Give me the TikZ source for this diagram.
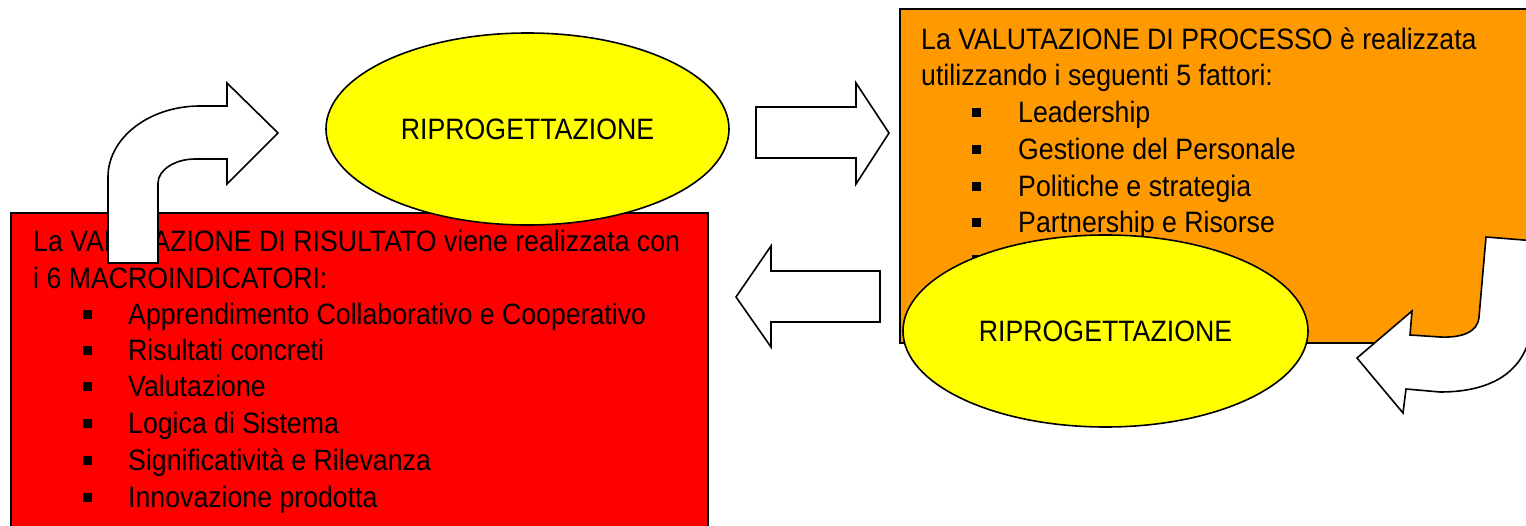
\documentclass[tikz,border=0pt]{standalone}
\usepackage{fontspec}
\setmainfont{Liberation Sans}[FakeStretch=0.905]
\usetikzlibrary{shapes.geometric}
\definecolor{boxred}{RGB}{255,0,0}
\definecolor{boxorange}{RGB}{255,153,0}
\definecolor{ellyellow}{RGB}{255,255,0}
\tikzset{
  panel/.style={draw=black, line width=1.6pt},
  txt/.style={inner sep=0pt, anchor=base west, font=\fontsize{29.5}{36.5}\selectfont},
  bul/.style={fill=black, draw=none},
  ell/.style={ellipse, draw=black, line width=1.6pt, fill=ellyellow, inner sep=0pt,
              font=\fontsize{29.5}{36.5}\selectfont},
  blockarrow/.style={draw=black, fill=white, line width=1.6pt, line join=miter}
}
\begin{document}
\begin{tikzpicture}[x=1pt, y=-1pt]
\clip (0,0) rectangle (1526,526);
\fill[white] (0,0) rectangle (1526,526);

% panels
\draw[panel, fill=boxred] (11,213) rectangle (708,540);
\draw[panel, fill=boxorange] (900,9) rectangle (1540,343);

% red panel text
\node[txt] (r1) at (33,252) {La VALUTAZIONE DI RISULTATO viene realizzata con};
\node[txt] (r2) at (33,289) {i 6 MACROINDICATORI:};
\foreach \y/\t [count=\i] in {325/{Apprendimento Collaborativo e Cooperativo},
                   361/{Risultati concreti},
                   397/{Valutazione},
                   433/{Logica di Sistema},
                   470/{Significatività e Rilevanza},
                   507/{Innovazione prodotta}}{
  \fill[bul] (82.5,\y-14.5) rectangle (91.5,\y-5.5);
  \node[txt] (ri\i) at (128,\y) {\t};
}

% orange panel text
\node[txt] (o1) at (921,50) {La VALUTAZIONE DI PROCESSO è realizzata};
\node[txt] (o2) at (921,86) {utilizzando i seguenti 5 fattori:};
\foreach \y/\t [count=\i] in {123/{Leadership},
                   160/{Gestione del Personale},
                   197/{Politiche e strategia},
                   233/{Partnership e Risorse}}{
  \fill[bul] (971.5,\y-14.5) rectangle (980.5,\y-5.5);
  \node[txt] (oi\i) at (1018,\y) {\t};
}
\fill[bul] (971.5,255.5) rectangle (980.5,264.5);

% ellipses
\node[ell, minimum width=403pt, minimum height=192pt] (e1) at (527.5,129) {RIPROGETTAZIONE};
\node[ell, minimum width=405pt, minimum height=192pt] (e2) at (1105.5,331) {RIPROGETTAZIONE};

% straight block arrows
\draw[blockarrow] (756,107) -- (856,107) -- (856,83) -- (889,133) -- (856,184)
  -- (856,158) -- (756,158) -- cycle;
\draw[blockarrow] (736,297) -- (771,246) -- (771,271) -- (880,271) -- (880,322)
  -- (771,322) -- (771,347) -- cycle;

% curved arrow top-left
\draw[blockarrow] (108,263) -- (108,177) .. controls (108,138) and (149,106) .. (200,106)
  -- (227,106) -- (227,83) -- (278,133) -- (227,184) -- (227,159) -- (195,159)
  .. controls (175,159) and (158,170) .. (158,183) -- (158,263) -- cycle;

% curved arrow bottom-right
\draw[blockarrow] (1486,237) -- (1479,317) .. controls (1478,332) and (1462,338) .. (1440,337)
  -- (1410,335) -- (1412,311) -- (1357,358) -- (1403,413) -- (1406,389)
  -- (1440,392) .. controls (1500,392) and (1530,365) .. (1532,320)
  -- (1536,241) -- cycle;
\end{tikzpicture}
\end{document}
